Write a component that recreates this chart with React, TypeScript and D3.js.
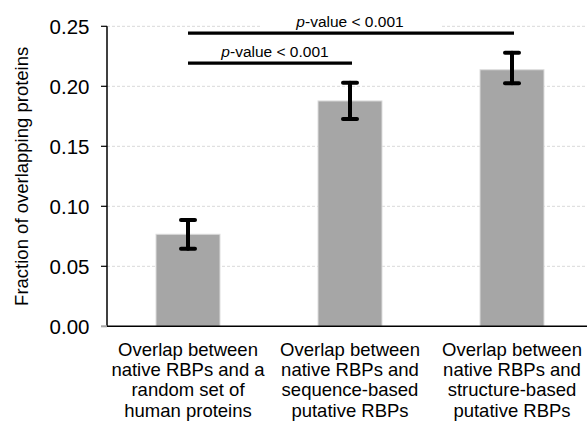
import React from "react";
import * as d3 from "d3";

const categories = ["random", "sequence", "structure"];
const categoryLabels = [
  ["Overlap between", "native RBPs and a", "random set of", "human proteins"],
  ["Overlap between", "native RBPs and", "sequence-based", "putative RBPs"],
  ["Overlap between", "native RBPs and", "structure-based", "putative RBPs"],
];
const values = [0.0767, 0.1878, 0.2138];
const errLow = [0.0647, 0.1728, 0.2025];
const errHigh = [0.0885, 0.203, 0.228];
const yTicks = [0, 0.05, 0.1, 0.15, 0.2, 0.25];
const yTickLabels = ["0.00", "0.05", "0.10", "0.15", "0.20", "0.25"];
const comparisons = [
  { from: 0, to: 1, label: "-value < 0.001", level: 0.2193 },
  { from: 0, to: 2, label: "-value < 0.001", level: 0.2443 },
];

const W = 587;
const H = 423;
const FONT = "'Liberation Sans', Arial, Helvetica, sans-serif";

export default function App() {
  const y = d3.scaleLinear().domain([0, 0.25]).range([326.3, 26.3]);
  const x = d3
    .scaleBand<string>()
    .domain(categories)
    .range([107, 593])
    .paddingInner(0.605)
    .paddingOuter(0.3025);
  const bw = x.bandwidth();
  const cx = (i: number) => (x(categories[i]) as number) + bw / 2;
  const x0 = 107;

  return (
    <svg
      width={W}
      height={H}
      style={{ position: "absolute", left: 0, top: 0, background: "#fff" }}
      fontFamily={FONT}
    >
      {/* grid */}
      {yTicks.slice(1).map((t) => (
        <line
          key={"g" + t}
          x1={x0}
          x2={W}
          y1={y(t)}
          y2={y(t)}
          stroke="#d9d9d9"
          strokeWidth={1}
          strokeDasharray="3,2"
        />
      ))}
      {/* white box behind top label */}
      <rect x={260} y={6} width={180} height={24} fill="#fff" />
      {/* bars */}
      {values.map((v, i) => (
        <rect
          key={"b" + i}
          x={x(categories[i])}
          y={y(v)}
          width={bw}
          height={y(0) - y(v)}
          fill="#a6a6a6"
          stroke="#dcdcdc"
          strokeWidth={1}
        />
      ))}
      {/* error bars */}
      {values.map((v, i) => (
        <g key={"e" + i} stroke="#000" strokeWidth={4} strokeLinecap="round">
          <line x1={cx(i)} x2={cx(i)} y1={y(errLow[i])} y2={y(errHigh[i])} />
          <line x1={cx(i) - 7} x2={cx(i) + 7} y1={y(errLow[i])} y2={y(errLow[i])} />
          <line x1={cx(i) - 7} x2={cx(i) + 7} y1={y(errHigh[i])} y2={y(errHigh[i])} />
        </g>
      ))}
      {/* axes */}
      <line x1={x0} x2={W} y1={y(0)} y2={y(0)} stroke="#000" strokeWidth={1.5} />
      <line x1={x0} x2={x0} y1={y(0.25)} y2={y(0)} stroke="#000" strokeWidth={1.5} />
      {yTicks.map((t, i) => (
        <g key={"t" + t}>
          <line
            x1={x0 - 6}
            x2={x0}
            y1={y(t)}
            y2={y(t)}
            stroke={t === 0 ? "#a6a6a6" : "#000"}
            strokeWidth={t === 0 ? 2 : 1.2}
          />
          <text
            x={89.5}
            y={y(t)}
            dy="0.36em"
            textAnchor="end"
            fontSize={20.5}
            fill="#000"
          >
            {yTickLabels[i]}
          </text>
        </g>
      ))}
      {/* y title */}
      <text
        transform={`translate(27.5,${(y(0) + y(0.25)) / 2}) rotate(-90)`}
        textAnchor="middle"
        fontSize={18.5}
        fill="#000"
      >
        Fraction of overlapping proteins
      </text>
      {/* category labels */}
      {categoryLabels.map((lines, i) => (
        <text key={"c" + i} textAnchor="middle" fontSize={18.5} fill="#000">
          {lines.map((l, j) => (
            <tspan key={j} x={cx(i)} y={355.7 + j * 20.35}>
              {l}
            </tspan>
          ))}
        </text>
      ))}
      {/* comparisons */}
      {comparisons.map((c, i) => (
        <g key={"s" + i}>
          <line
            x1={cx(c.from)}
            x2={cx(c.to) + 2}
            y1={y(c.level)}
            y2={y(c.level)}
            stroke="#000"
            strokeWidth={3.2}
          />
          <text
            x={(cx(c.from) + cx(c.to)) / 2 + (i === 0 ? 6 : 0)}
            y={y(c.level) - 6.5}
            textAnchor="middle"
            fontSize={15.5}
            fill="#000"
          >
            <tspan fontStyle="italic">p</tspan>
            {c.label}
          </text>
        </g>
      ))}
    </svg>
  );
}
